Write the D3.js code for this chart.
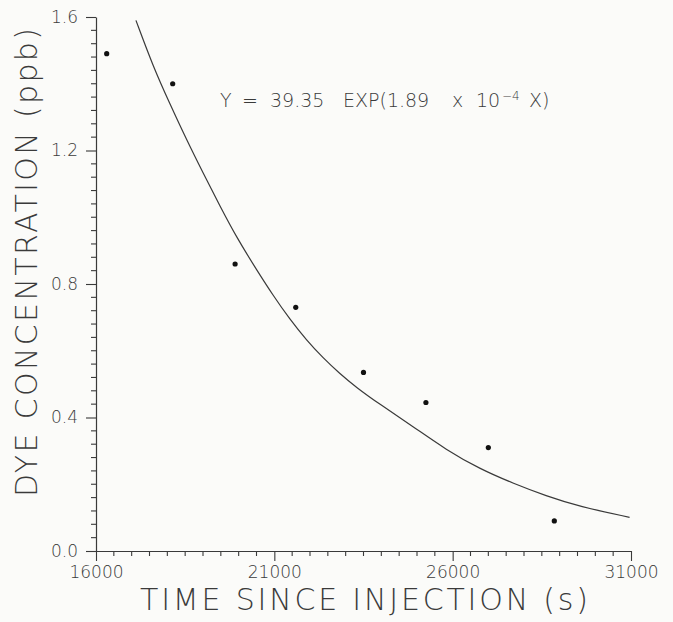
<!DOCTYPE html>
<html>
<head>
<meta charset="utf-8">
<script src="https://cdn.jsdelivr.net/npm/d3@7"></script>
<style>
  body { margin: 0; background: #fbfbf9; }
  text { font-family: "DejaVu Sans", sans-serif; font-weight: 200; fill: #3a3a3a; }
</style>
</head>
<body>
<script>
  // measured points
  const timeS = [16300, 18150, 19900, 21600, 23500, 25250, 27000, 28850];
  const dyePpb = [1.49, 1.40, 0.86, 0.73, 0.535, 0.445, 0.31, 0.09];

  // fitted curve
  const fitTime = [17120, 17600, 18070, 18540, 19000, 19470, 19940, 20500, 20970, 21430, 21900,
                   22370, 22830, 23300, 23950, 24890, 25820, 26760, 27690, 28620, 29560, 30960];
  const fitPpb = [1.59, 1.452, 1.340, 1.232, 1.133, 1.035, 0.940, 0.843, 0.765, 0.695, 0.632,
                  0.578, 0.532, 0.490, 0.440, 0.373, 0.303, 0.246, 0.203, 0.165, 0.133, 0.101];

  const xTicks = [16000, 21000, 26000, 31000];
  const yTicks = [0.0, 0.4, 0.8, 1.2, 1.6];
  const xMinor = d3.range(16500, 31000, 500).filter(v => v % 5000 !== 1000);
  const yMinor = d3.range(1, 40).filter(i => i % 10 !== 0).map(i => i * 0.04);

  const width = 673, height = 622;
  const margin = {top: 17, right: 42, bottom: 71, left: 96};

  const svg = d3.select('body')
    .append('svg')
    .attr('width', width)
    .attr('height', height);

  const x = d3.scaleLinear()
      .domain([16000, 31000])
      .range([margin.left, width - margin.right]);

  const y = d3.scaleLinear()
      .domain([0, 1.6])
      .range([height - margin.bottom, margin.top]);

  const ink = '#3a3a3a';

  // minor ticks
  svg.append('g')
    .attr('stroke', ink)
    .attr('stroke-width', 1.1)
    .selectAll('line')
    .data(xMinor)
    .join('line')
    .attr('x1', d => x(d)).attr('x2', d => x(d))
    .attr('y1', y(0)).attr('y2', y(0) + 5);

  svg.append('g')
    .attr('stroke', ink)
    .attr('stroke-width', 1.1)
    .selectAll('line')
    .data(yMinor)
    .join('line')
    .attr('x1', x(16000) - 5).attr('x2', x(16000))
    .attr('y1', d => y(d)).attr('y2', d => y(d));

  // major ticks + labels
  svg.append('g')
    .attr('transform', 'translate(0,' + y(0) + ')')
    .call(d3.axisBottom(x).tickValues(xTicks).tickSize(10).tickSizeOuter(0).tickPadding(5).tickFormat(d3.format('d')));

  svg.append('g')
    .attr('transform', 'translate(' + x(16000) + ',0)')
    .call(d3.axisLeft(y).tickValues(yTicks).tickSize(10).tickSizeOuter(0).tickPadding(8).tickFormat(d3.format('.1f')));

  svg.selectAll('.tick line').attr('stroke', ink).attr('stroke-width', 1.1);
  svg.selectAll('.domain').attr('stroke', ink).attr('stroke-width', 1.2);
  svg.selectAll('.tick text')
    .attr('font-family', '"DejaVu Sans", sans-serif')
    .attr('font-weight', 200)
    .attr('font-size', 17)
    .attr('fill', ink);

  // fitted curve
  const line = d3.line()
      .x((d, i) => x(fitTime[i]))
      .y(d => y(d))
      .curve(d3.curveBasis);

  svg.append('path')
    .datum(fitPpb)
    .attr('d', line)
    .attr('fill', 'none')
    .attr('stroke', ink)
    .attr('stroke-width', 1.2);

  // data points
  svg.selectAll('.pt')
    .data(dyePpb)
    .enter().append('circle')
    .attr('class', 'pt')
    .attr('cx', (d, i) => x(timeS[i]))
    .attr('cy', d => y(d))
    .attr('r', 2.6)
    .attr('fill', '#111');

  // equation
  const eq = svg.append('text')
    .attr('y', 107)
    .attr('font-size', 19);
  eq.append('tspan').attr('x', 220).text('Y');
  eq.append('tspan').attr('x', 242).text('=');
  eq.append('tspan').attr('x', 270).text('39.35');
  eq.append('tspan').attr('x', 343).text('EXP(1.89');
  eq.append('tspan').attr('x', 452).text('x');
  eq.append('tspan').attr('x', 476).text('10');
  eq.append('tspan').attr('x', 502).attr('dy', -7).attr('font-size', 12).text('\u22124');
  eq.append('tspan').attr('x', 529).attr('dy', 7).text('X)');

  // axis titles
  svg.append('text')
    .attr('x', 140)
    .attr('y', 610)
    .attr('font-size', 30)
    .attr('textLength', 448)
    .attr('lengthAdjust', 'spacing')
    .text('TIME SINCE INJECTION (s)');

  svg.append('text')
    .attr('transform', 'translate(37,497) rotate(-90)')
    .attr('font-size', 30)
    .attr('textLength', 469)
    .attr('lengthAdjust', 'spacing')
    .text('DYE CONCENTRATION (ppb)');
</script>
</body>
</html>
